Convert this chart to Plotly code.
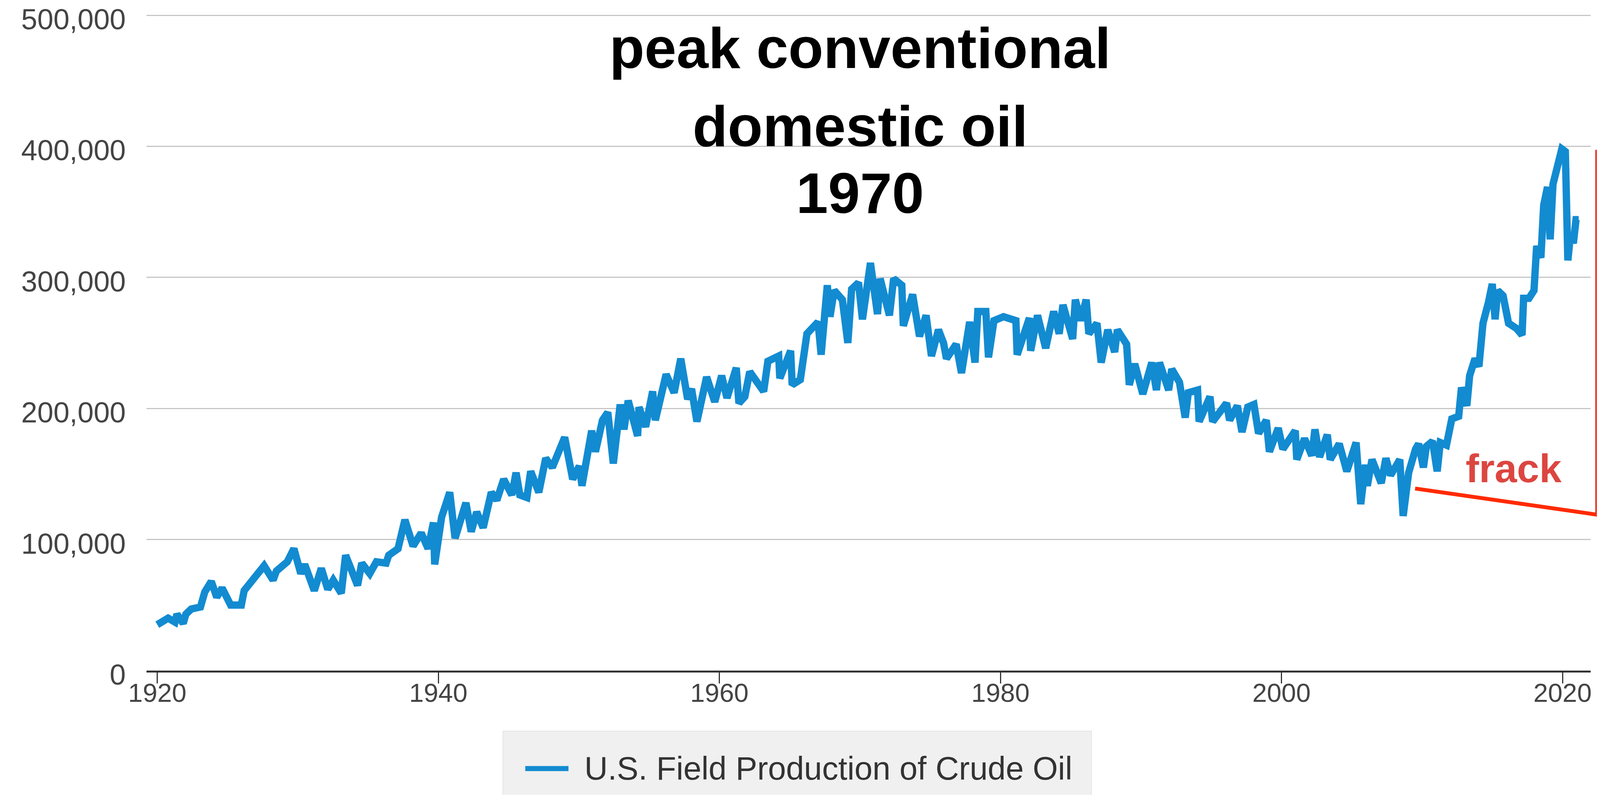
import plotly.graph_objects as go

# ---- data ----
years = [
    1920.00, 1920.77, 1921.26, 1921.40, 1921.84, 1922.03, 1922.42, 1923.07, 1923.38, 1923.84,
    1924.23, 1924.61, 1925.22, 1925.98, 1926.18, 1926.94, 1927.60, 1928.24, 1928.48, 1929.25,
    1929.72, 1930.21, 1930.49, 1931.17, 1931.67, 1932.13, 1932.52, 1933.09, 1933.40, 1934.25,
    1934.55, 1935.12, 1935.59, 1936.28, 1936.47, 1937.13, 1937.62, 1938.20, 1938.78, 1939.27,
    1939.65, 1939.74, 1940.23, 1940.81, 1941.19, 1941.96, 1942.34, 1942.73, 1943.19, 1943.77,
    1944.16, 1944.65, 1945.23, 1945.53, 1945.80, 1946.30, 1946.57, 1947.15, 1947.64, 1948.11,
    1948.99, 1949.56, 1950.03, 1950.22, 1950.91, 1951.18, 1951.68, 1952.06, 1952.45, 1952.94,
    1953.21, 1953.51, 1954.18, 1954.28, 1954.75, 1955.25, 1955.44, 1956.21, 1956.78, 1957.25,
    1957.74, 1958.02, 1958.40, 1959.09, 1959.67, 1960.16, 1960.54, 1961.20, 1961.39, 1961.81,
    1962.16, 1963.15, 1963.45, 1964.22, 1964.30, 1965.07, 1965.18, 1965.76, 1966.23, 1967.02,
    1967.24, 1967.68, 1967.87, 1968.17, 1968.75, 1969.14, 1969.41, 1969.90, 1970.18, 1970.75,
    1971.25, 1971.44, 1972.10, 1972.40, 1972.98, 1973.09, 1973.75, 1974.24, 1974.71, 1975.09,
    1975.59, 1975.95, 1976.16, 1976.85, 1977.23, 1977.81, 1978.19, 1978.39, 1978.96, 1979.15,
    1979.54, 1980.22, 1981.10, 1981.19, 1982.06, 1982.15, 1982.64, 1983.22, 1983.79, 1984.18,
    1984.45, 1985.14, 1985.33, 1985.72, 1986.10, 1986.29, 1986.87, 1987.17, 1987.64, 1988.13,
    1988.32, 1988.98, 1989.17, 1989.56, 1990.13, 1990.77, 1991.10, 1991.32, 1991.97, 1992.19,
    1992.74, 1993.15, 1993.37, 1994.03, 1994.14, 1994.91, 1995.10, 1996.09, 1996.31, 1996.86,
    1997.19, 1997.60, 1998.04, 1998.37, 1998.92, 1999.14, 1999.77, 2000.10, 2000.98, 2001.09,
    2001.64, 2002.16, 2002.38, 2002.71, 2003.26, 2003.47, 2004.11, 2004.65, 2005.31, 2005.64,
    2005.97, 2006.11, 2006.44, 2007.10, 2007.43, 2007.76, 2008.42, 2008.66, 2009.05, 2009.54,
    2009.76, 2010.10, 2010.31, 2010.75, 2011.08, 2011.30, 2011.74, 2012.12, 2012.61, 2012.81,
    2013.19, 2013.39, 2013.77, 2014.05, 2014.34, 2014.73, 2015.00, 2015.20, 2015.39, 2015.77,
    2016.16, 2016.73, 2017.12, 2017.23, 2017.61, 2017.97, 2018.16, 2018.46, 2018.66, 2018.93,
    2019.12, 2019.32, 2019.62, 2019.81, 2019.95, 2020.20, 2020.38, 2020.57, 2020.77, 2020.96,
    2021.15,
]
production = [
    35000, 40000, 37000, 43000, 36000, 43000, 47000, 48500, 60000, 68000,
    56000, 63000, 50000, 50000, 61000, 72000, 80000, 69000, 76000, 83000,
    93000, 74000, 81000, 61000, 78000, 62000, 69000, 59000, 88000, 65000,
    82000, 74000, 83000, 82000, 88000, 93000, 115000, 95000, 105000, 93000,
    113000, 81000, 117000, 136000, 101000, 128000, 106000, 121000, 109000, 136000,
    130000, 146000, 134000, 151000, 134000, 132000, 152000, 136000, 162000, 155000,
    178000, 146000, 156000, 141000, 183000, 167000, 191000, 197000, 158000, 203000,
    184000, 206000, 179000, 201000, 186000, 213000, 191000, 226000, 212000, 238000,
    207000, 215000, 190000, 224000, 205000, 225000, 208000, 231000, 204000, 209000,
    228000, 213000, 236000, 240000, 223000, 244000, 218000, 222000, 257000, 266000,
    241000, 294000, 270000, 290000, 283000, 250000, 291000, 296000, 268000, 311000,
    272000, 299000, 271000, 299000, 294000, 263000, 287000, 255000, 271000, 240000,
    260000, 250000, 238000, 249000, 227000, 266000, 235000, 274000, 274000, 239000,
    267000, 270000, 267000, 241000, 269000, 244000, 271000, 246000, 274000, 257000,
    279000, 253000, 283000, 267000, 283000, 257000, 265000, 235000, 260000, 243000,
    260000, 249000, 218000, 234000, 211000, 235000, 214000, 235000, 214000, 230000,
    220000, 193000, 212000, 214000, 190000, 209000, 190000, 204000, 191000, 202000,
    182000, 201000, 203000, 181000, 191000, 167000, 185000, 169000, 183000, 161000,
    177000, 164000, 184000, 163000, 180000, 161000, 173000, 152000, 174000, 127000,
    157000, 141000, 161000, 143000, 162000, 149000, 161000, 118000, 151000, 169000,
    173000, 155000, 171000, 175000, 152000, 174000, 172000, 192000, 194000, 216000,
    202000, 225000, 238000, 232000, 265000, 281000, 295000, 268000, 290000, 286000,
    265000, 261000, 256000, 284000, 284000, 290000, 324000, 315000, 355000, 369000,
    329000, 371000, 385000, 396000, 398000, 396000, 313000, 333000, 326000, 344000,
    344000,
]
series_name = "U.S. Field Production of Crude Oil"
x_ticks = [1920, 1940, 1960, 1980, 2000, 2020]
y_ticks = [0, 100000, 200000, 300000, 400000, 500000]
title_lines = ["peak conventional", "domestic oil", "1970"]
note_text = "frack"

# ---- geometry ----
# Targets are given in screenshot pixels (4148 wide). The page is laid out in a
# 4096-px viewport (scaled up by K in the screenshot) with an 8px body margin.
K = 4148 / 4096
OFF = 8
W = int(4096 - OFF)
H = int(2060 / K - OFF)

def f(t):                    # screenshot px -> figure px
    return t / K - OFF

def s(v):                    # screenshot size -> figure size
    return v / K

PL, PR, PT, PB = 380, 4124, 38, 1738          # plot box (screenshot px)
ML, MR, MT, MB = f(PL), W - f(PR), f(PT), H - f(PB)
PWf, PHf = f(PR) - f(PL), f(PB) - f(PT)

def px(t):
    return (f(t) - ML) / PWf

def py(t):
    return (f(PB) - f(t)) / PHf

FONT = "Liberation Sans, Arial, Helvetica, sans-serif"
BLUE = "#138bd1"

fig = go.Figure()
fig.add_trace(go.Scatter(
    x=years, y=production, mode="lines", name=series_name,
    line=dict(color=BLUE, width=s(19)), showlegend=False,
    hoverinfo="x+y",
))

fig.update_layout(
    width=W, height=H,
    margin=dict(l=ML, r=MR, t=MT, b=MB, pad=0, autoexpand=False),
    paper_bgcolor="white", plot_bgcolor="white",
    font=dict(family=FONT, size=s(75), color="#444444"),
    xaxis=dict(
        range=[1919.23, 2022.0], tickmode="array", tickvals=x_ticks,
        ticktext=[str(v) for v in x_ticks],
        showgrid=False, zeroline=False, showline=True,
        linecolor="#333333", linewidth=s(5),
        ticks="outside", ticklen=s(28), tickwidth=s(3), tickcolor="#333333",
        ticklabelstandoff=-33, ticklabeloverflow="allow",
        tickfont=dict(size=s(68), color="#444444", family=FONT),
    ),
    yaxis=dict(
        range=[0, 500300], tickmode="array", tickvals=y_ticks,
        tickformat=",", showgrid=True, gridcolor="#c6c6c6", gridwidth=s(3),
        zeroline=False, showline=False, ticks="",
        ticklabelstandoff=52, ticklabelshift=10, ticklabeloverflow="allow",
        tickfont=dict(size=s(75), color="#444444", family=FONT),
    ),
)

# title lines
title_y = [124, 327, 500]
for txt, yy in zip(title_lines, title_y):
    fig.add_annotation(
        x=px(2230), y=py(yy), xref="paper", yref="paper",
        text=f"<b>{txt}</b>", showarrow=False,
        xanchor="center", yanchor="middle",
        font=dict(family=FONT, size=s(149), color="#000000"),
    )

# frack note
fig.add_annotation(
    x=px(3925), y=py(1214), xref="paper", yref="paper",
    text=f"<b>{note_text}</b>", showarrow=False,
    xanchor="center", yanchor="middle",
    font=dict(family=FONT, size=s(104), color="#dc4640"),
)

# red pointer lines
fig.add_shape(type="line", xref="paper", yref="paper",
              x0=px(3669), y0=py(1266), x1=px(4170), y1=py(1338),
              line=dict(color="#ff2a00", width=s(10)))
fig.add_shape(type="line", xref="paper", yref="paper",
              x0=px(4139), y0=py(388), x1=px(4139), y1=py(1335),
              line=dict(color="#e8302a", width=s(6)))

# manual legend
fig.add_shape(type="rect", xref="paper", yref="paper",
              x0=px(1304), x1=px(2830), y0=py(1895), y1=py(2100),
              fillcolor="#f0f0f0", line=dict(color="#e4e4e4", width=2), layer="below")
fig.add_shape(type="line", xref="paper", yref="paper",
              x0=px(1362), x1=px(1474), y0=py(1992), y1=py(1992),
              line=dict(color=BLUE, width=s(13)))
fig.add_annotation(
    x=px(1513), y=py(1992), xref="paper", yref="paper",
    text=series_name, showarrow=False, xanchor="left", yanchor="middle",
    font=dict(family=FONT, size=s(84), color="#333333"),
)

fig.write_html("out.html")
